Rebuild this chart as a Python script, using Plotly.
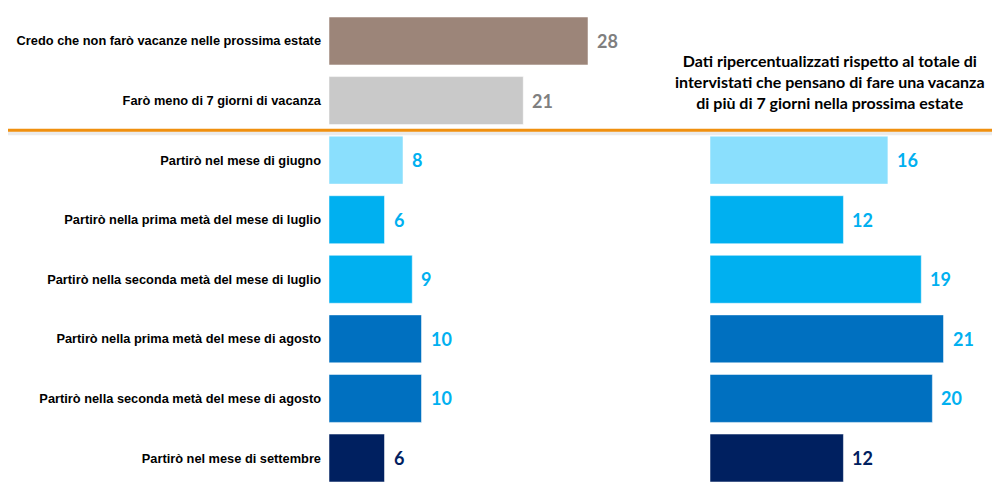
import plotly.graph_objects as go

categories = [
    "Credo che non farò vacanze nelle prossima estate",
    "Farò meno di 7 giorni di vacanza",
    "Partirò nel mese di giugno",
    "Partirò nella prima metà del mese di luglio",
    "Partirò nella seconda metà del mese di luglio",
    "Partirò nella prima metà del mese di agosto",
    "Partirò nella seconda metà del mese di agosto",
    "Partirò nel mese di settembre",
]
left_values = [28, 21, 8, 6, 9, 10, 10, 6]
right_categories = categories[2:]
right_values = [16, 12, 19, 21, 20, 12]

bar_colors = ["#9C8579", "#C9C9C9", "#8ADFFD", "#00B0F0", "#00B0F0", "#0070C0", "#0070C0", "#002060"]
label_colors = ["#7F7F7F", "#7F7F7F", "#00B0F0", "#00B0F0", "#00B0F0", "#00B0F0", "#00B0F0", "#002060"]
right_bar_colors = bar_colors[2:]
right_label_colors = label_colors[2:]

note = ("Dati ripercentualizzati rispetto al totale di<br>"
        "intervistati che pensano di fare una vacanza<br>"
        "di più di 7 giorni nella prossima estate")

fig = go.Figure()
fig.add_trace(go.Bar(
    x=left_values, y=categories, orientation="h",
    marker=dict(color=bar_colors, line=dict(color="rgba(255,255,255,0.5)", width=1)),
    xaxis="x", yaxis="y", showlegend=False, hoverinfo="skip",
))
fig.add_trace(go.Bar(
    x=right_values, y=right_categories, orientation="h",
    marker=dict(color=right_bar_colors, line=dict(color="rgba(255,255,255,0.5)", width=1)),
    xaxis="x2", yaxis="y2", showlegend=False, hoverinfo="skip",
))

annotations = []
for c, v, col in zip(categories, left_values, label_colors):
    annotations.append(dict(x=v, y=c, xref="x", yref="y", text=f"<b>{v}</b>",
                            showarrow=False, xanchor="left", xshift=7,
                            font=dict(family="Lato", size=18, color=col)))
for c, v, col in zip(right_categories, right_values, right_label_colors):
    annotations.append(dict(x=v, y=c, xref="x2", yref="y2", text=f"<b>{v}</b>",
                            showarrow=False, xanchor="left", xshift=7,
                            font=dict(family="Lato", size=18, color=col)))
annotations.append(dict(x=0.822, y=0.851, xref="paper", yref="paper", text=f"<b>{note}</b>",
                        showarrow=False, xanchor="center", yanchor="middle", align="center",
                        font=dict(family="Lato", size=16, color="#000000")))

y_common = dict(type="category", categoryorder="array", categoryarray=categories,
                range=[7.5, -0.5], domain=[0.0228, 0.9935], showgrid=False,
                zeroline=False, showline=False, fixedrange=True)

fig.update_layout(
    width=1000, height=491,
    margin=dict(l=0, r=0, t=0, b=0),
    paper_bgcolor="white", plot_bgcolor="white",
    bargap=0.195,
    xaxis=dict(domain=[0.321, 0.691], range=[0, 40], visible=False),
    xaxis2=dict(domain=[0.702, 0.992], range=[0, 26.08], visible=False, anchor="y2"),
    yaxis=dict(**y_common, anchor="x", ticks="", ticklabelstandoff=7,
               tickprefix="<b>", ticksuffix="</b>",
               tickfont=dict(family="Liberation Sans", size=12.8, color="#000000")),
    yaxis2=dict(**y_common, anchor="x2", showticklabels=False),
    annotations=annotations,
    shapes=[
        dict(type="rect", xref="paper", yref="y", x0=0, x1=1, ysizemode="pixel",
             yanchor=1.5, y0=-1, y1=-5, line=dict(width=0), fillcolor="rgba(0,0,0,0.08)"),
        dict(type="line", xref="paper", yref="y", x0=0, x1=1, y0=1.5, y1=1.5,
             line=dict(color="#F0900F", width=3)),
    ],
)
fig.write_html("out.html")
